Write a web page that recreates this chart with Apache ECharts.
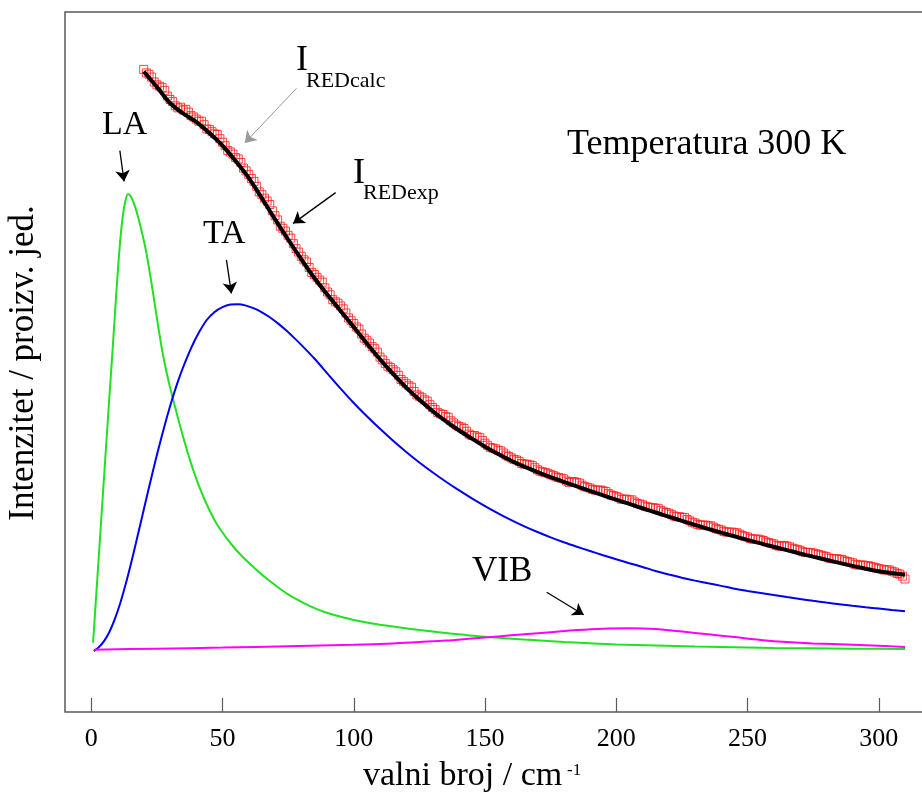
<!DOCTYPE html>
<html>
<head>
<meta charset="utf-8">
<script src="https://cdn.jsdelivr.net/npm/echarts@6/dist/echarts.min.js"></script>
<style>
html,body{margin:0;padding:0;background:#ffffff;}
#chart{width:922px;height:800px;}
</style>
</head>
<body>
<div id="chart"></div>
<script>
// ---------------- data ----------------
const xTickValues = [0, 50, 100, 150, 200, 250, 300];

const expWavenumber = [
  20,21,22,23,24,25,26,27,28,29,30,31,32,33,34,35,36,37,38,39,
  40,41,42,43,44,45,46,47,48,49,50,51,52,53,54,55,56,57,58,59,
  60,61,62,63,64,65,66,67,68,69,70,71,72,73,74,75,76,77,78,79,
  80,81,82,83,84,85,86,87,88,89,90,91,92,93,94,95,96,97,98,99,
  100,101,102,103,104,105,106,107,108,109,110,111,112,113,114,115,116,117,118,119,
  120,121,122,123,124,125,126,127,128,129,130,131,132,133,134,135,136,137,138,139,
  140,141,142,143,144,145,146,147,148,149,150,151,152,153,154,155,156,157,158,159,
  160,161,162,163,164,165,166,167,168,169,170,171,172,173,174,175,176,177,178,179,
  180,181,182,183,184,185,186,187,188,189,190,191,192,193,194,195,196,197,198,199,
  200,201,202,203,204,205,206,207,208,209,210,211,212,213,214,215,216,217,218,219,
  220,221,222,223,224,225,226,227,228,229,230,231,232,233,234,235,236,237,238,239,
  240,241,242,243,244,245,246,247,248,249,250,251,252,253,254,255,256,257,258,259,
  260,261,262,263,264,265,266,267,268,269,270,271,272,273,274,275,276,277,278,279,
  280,281,282,283,284,285,286,287,288,289,290,291,292,293,294,295,296,297,298,299,
  300,301,302,303,304,305,306,307,308,309,310];
const expIntensity = [
  91.8,91.3,91.1,90.7,90.0,89.6,89.4,89.2,88.8,88.0,87.5,87.2,86.6,86.3,86.4,86.0,86.1,85.7,85.2,85.0,
  84.7,84.4,84.4,83.9,83.3,83.2,82.9,82.6,82.5,81.9,81.4,80.9,80.2,80.0,79.7,79.2,79.0,78.5,77.7,77.3,
  76.8,76.2,75.8,75.1,74.3,73.9,73.4,73.0,72.5,71.6,70.9,70.3,69.4,69.1,68.7,68.1,67.7,66.9,66.2,65.7,
  65.1,64.6,64.3,63.5,62.8,62.5,62.1,61.7,61.4,60.6,60.0,59.6,58.9,58.6,58.4,58.0,57.6,57.0,56.3,55.9,
  55.5,55.0,54.7,54.0,53.4,53.1,52.7,52.2,51.9,51.4,50.7,50.3,49.8,49.4,49.2,48.9,48.6,48.1,47.5,47.2,
  46.9,46.6,46.4,45.8,45.3,45.1,44.9,44.6,44.4,43.9,43.5,43.2,42.8,42.6,42.5,42.2,42.1,41.6,41.3,41.0,
  40.8,40.7,40.5,40.1,39.7,39.5,39.5,39.3,39.2,38.8,38.4,38.1,37.8,37.7,37.6,37.4,37.3,37.0,36.7,36.5,
  36.3,36.1,36.0,35.8,35.5,35.4,35.4,35.3,35.2,34.9,34.6,34.4,34.3,34.2,34.1,33.9,33.8,33.6,33.5,33.4,
  33.3,33.0,32.8,32.9,32.9,32.8,32.7,32.4,32.2,32.1,32.0,31.8,31.7,31.7,31.7,31.6,31.5,31.2,31.0,30.9,
  30.8,30.6,30.4,30.4,30.4,30.3,30.3,30.0,29.8,29.7,29.6,29.4,29.3,29.2,29.2,29.1,29.1,28.8,28.6,28.5,
  28.4,28.2,28.0,27.9,27.9,27.8,27.8,27.5,27.3,27.1,27.0,26.8,26.7,26.7,26.7,26.6,26.6,26.4,26.2,26.1,
  26.0,25.8,25.7,25.7,25.7,25.6,25.6,25.4,25.2,25.1,25.0,24.8,24.7,24.7,24.7,24.6,24.5,24.3,24.2,24.1,
  24.0,23.8,23.7,23.7,23.8,23.7,23.6,23.4,23.3,23.2,23.1,22.9,22.8,22.8,22.8,22.7,22.6,22.5,22.4,22.3,
  22.2,22.0,21.9,21.9,21.9,21.8,21.8,21.6,21.5,21.4,21.3,21.1,21.0,21.0,21.0,20.9,20.9,20.8,20.7,20.6,
  20.5,20.4,20.3,20.3,20.3,20.1,20.0,19.8,19.7,19.4,19.0];

const calcWavenumber = [20,25,30,35,40,45,50,55,60,65,70,75,80,85,90,95,100,105,110,115,
  120,125,130,135,140,145,150,155,160,165,170,175,180,185,190,195,200,205,210,215,
  220,225,230,235,240,245,250,255,260,265,270,275,280,285,290,295,300,305,310];
const calcIntensity = [91.5,89.3,87.0,85.5,84.3,82.7,80.9,78.7,76.3,73.4,70.4,67.5,64.7,62.0,59.6,57.3,55.0,52.65,50.4,48.3,
  46.35,44.6,43.0,41.55,40.25,39.05,37.9,36.85,35.9,35.05,34.28,33.56,32.88,32.22,31.58,30.95,30.33,29.72,29.11,28.5,
  27.9,27.31,26.73,26.17,25.63,25.1,24.59,24.09,23.6,23.12,22.65,22.19,21.74,21.3,20.87,20.47,20.12,19.85,19.6];

const laWavenumber = [0.7,2,3,4,5,6,7,8,9,10,11,12,13,14,15,16,17,18,19,20,
  21,22,23,24,25,26,27,28,29,30,31,32,33,34,35,36,37,38,39,40,
  41,42,43,44,45,46,47,48,49,50,52,54,56,58,60,63,66,69,72,75,
  78,81,85,90,95,100,105,110,117,125,135,150,165,180,200,230,260,290,310];
const laIntensity = [9.9,17.3,22.9,28.6,34.3,39.9,45.5,51.0,56.7,62.3,67.2,70.8,73.0,74.0,73.7,72.9,71.8,70.5,69.0,67.4,
  65.6,63.45,61.15,58.75,56.3,53.9,51.7,49.75,48.0,46.4,44.95,43.5,42.05,40.65,39.3,38.0,36.75,35.55,34.4,33.35,
  32.35,31.4,30.5,29.65,28.85,28.1,27.4,26.75,26.18,25.64,24.62,23.68,22.82,22.04,21.33,20.3,19.33,18.42,17.58,16.8,
  16.15,15.55,14.85,14.15,13.6,13.15,12.78,12.48,12.1,11.72,11.3,10.75,10.35,10.0,9.65,9.35,9.15,9.05,9.0];

const taWavenumber = [1,3,5,7,9,11,13,15,17,19,21,23,25,27,29,31,33,35,38,41,
  44,47,50,53,56,59,62,65,68,71,74,77,80,85,90,95,100,105,110,115,
  120,125,130,135,140,145,150,155,160,165,170,175,180,185,190,195,200,205,210,215,
  220,225,230,235,240,245,250,255,260,265,270,275,280,285,290,295,300,305,310];
const taIntensity = [8.7,9.3,10.2,11.5,13.3,15.5,18.1,21.0,24.1,27.3,30.5,33.65,36.7,39.6,42.35,44.9,47.2,49.25,51.95,54.2,
  56.0,57.15,57.85,58.2,58.25,58.05,57.65,57.1,56.4,55.55,54.6,53.55,52.45,50.5,48.35,46.2,44.15,42.25,40.45,38.75,
  37.15,35.65,34.25,32.93,31.69,30.52,29.42,28.39,27.42,26.53,25.71,24.95,24.25,23.61,23.0,22.4,21.82,21.26,20.72,20.15,
  19.65,19.19,18.77,18.38,18.02,17.62,17.3,17.0,16.7,16.42,16.15,15.88,15.63,15.4,15.18,14.97,14.77,14.58,14.4];

const vibWavenumber = [1,25,50,75,100,115,125,135,145,155,165,175,185,195,205,215,225,235,245,255,265,275,290,300,310];
const vibIntensity = [8.9,9.05,9.2,9.4,9.6,9.8,10.0,10.2,10.5,10.8,11.1,11.4,11.7,11.9,11.95,11.85,11.5,11.1,10.7,10.3,10.0,9.8,9.6,9.45,9.3];

// annotation arrows in data coordinates [x1, y1, x2, y2]
const arrowLA = [10.9, 80.2, 12.5, 75.8];
const arrowTA = [51.5, 64.6, 53.4, 59.8];
const arrowCalc = [78.2, 89.1, 58.5, 81.3];
const arrowExp = [93.1, 74.2, 76.9, 69.8];
const arrowVIB = [173.5, 17.1, 187.6, 13.9];

// ---------------- chart ----------------
const SERIF = '"Liberation Serif", "Times New Roman", "DejaVu Serif", serif';
const zip = (xs, ys) => xs.slice(0, Math.min(xs.length, ys.length)).map((x, i) => [x, ys[i]]);
const arrow = (a, style) => [
  { coord: [a[0], a[1]], lineStyle: style },
  { coord: [a[2], a[3]] }
];
const txt = (text, x, y, size, align) => ({
  type: 'text', x: x, y: y, silent: true,
  style: {
    text: text, font: size + 'px ' + SERIF, fill: '#000',
    textAlign: align || 'left', align: align || 'left',
    textVerticalAlign: 'middle', verticalAlign: 'middle'
  }
});

const chart = echarts.init(document.getElementById('chart'), null, { renderer: 'canvas' });

const option = {
  animation: false,
  backgroundColor: '#ffffff',
  grid: {
    left: 65, top: 12, bottom: 88, right: -9.25,
    show: true, borderColor: '#5a5a5a', borderWidth: 1.5,
    containLabel: false, outerBoundsMode: 'none'
  },
  xAxis: {
    type: 'value', min: -10, max: 320,
    axisLine: { show: false },
    splitLine: { show: false },
    axisTick: { show: true, inside: true, length: 14, customValues: xTickValues,
      lineStyle: { color: '#5a5a5a', width: 1.2 } },
    axisLabel: { customValues: xTickValues, fontFamily: SERIF, fontSize: 26, color: '#000', margin: 14 }
  },
  yAxis: {
    type: 'value', min: 0, max: 100,
    axisLine: { show: false }, axisTick: { show: false },
    axisLabel: { show: false }, splitLine: { show: false }
  },
  series: [
    {
      name: 'IREDexp', type: 'scatter', data: zip(expWavenumber, expIntensity),
      symbol: 'rect', symbolSize: 8, z: 2, silent: true, large: false,
      itemStyle: { color: 'rgba(0,0,0,0)', borderColor: '#ff1a1a', borderWidth: 1 },
      markLine: {
        silent: true, symbol: ['none', 'arrow'], symbolSize: 11, precision: 3,
        label: { show: false },
        lineStyle: { color: '#000', width: 1.3, type: 'solid' },
        data: [
          arrow(arrowLA, { color: '#000', width: 1.3, type: 'solid' }),
          arrow(arrowTA, { color: '#000', width: 1.3, type: 'solid' }),
          arrow(arrowCalc, { color: '#9a9a9a', width: 1, type: 'solid' }),
          arrow(arrowExp, { color: '#000', width: 1.3, type: 'solid' }),
          arrow(arrowVIB, { color: '#000', width: 1.3, type: 'solid' })
        ]
      }
    },
    {
      name: 'LA', type: 'line', data: zip(laWavenumber, laIntensity),
      showSymbol: false, smooth: 0.3, z: 3,
      lineStyle: { color: '#22e022', width: 2 }, itemStyle: { color: '#22e022' }
    },
    {
      name: 'TA', type: 'line', data: zip(taWavenumber, taIntensity),
      showSymbol: false, smooth: 0.3, z: 3,
      lineStyle: { color: '#0000ee', width: 2 }, itemStyle: { color: '#0000ee' }
    },
    {
      name: 'VIB', type: 'line', data: zip(vibWavenumber, vibIntensity),
      showSymbol: false, smooth: 0.3, z: 3,
      lineStyle: { color: '#ff00ff', width: 2 }, itemStyle: { color: '#ff00ff' }
    },
    {
      name: 'IREDcalc', type: 'line', data: zip(calcWavenumber, calcIntensity),
      showSymbol: false, smooth: 0.3, z: 4,
      lineStyle: { color: '#000', width: 4 }, itemStyle: { color: '#000' }
    }
  ],
  graphic: [
    txt('LA', 102, 125, 34),
    txt('TA', 203, 234, 34),
    txt('Temperatura 300 K', 567, 145, 36),
    txt('VIB', 472, 572, 35),
    txt('I', 296, 61, 36),
    txt('REDcalc', 306, 81, 22),
    txt('I', 353, 174, 36),
    txt('REDexp', 363, 193, 22),
    txt('valni broj / cm', 363, 776, 34),
    txt('-1', 567, 771, 17),
    {
      type: 'text', x: 24, y: 363, rotation: Math.PI / 2, silent: true,
      style: {
        text: 'Intenzitet / proizv. jed.', font: '35px ' + SERIF, fill: '#000',
        textAlign: 'center', align: 'center', textVerticalAlign: 'middle', verticalAlign: 'middle'
      }
    }
  ]
};

chart.setOption(option);
</script>
</body>
</html>
